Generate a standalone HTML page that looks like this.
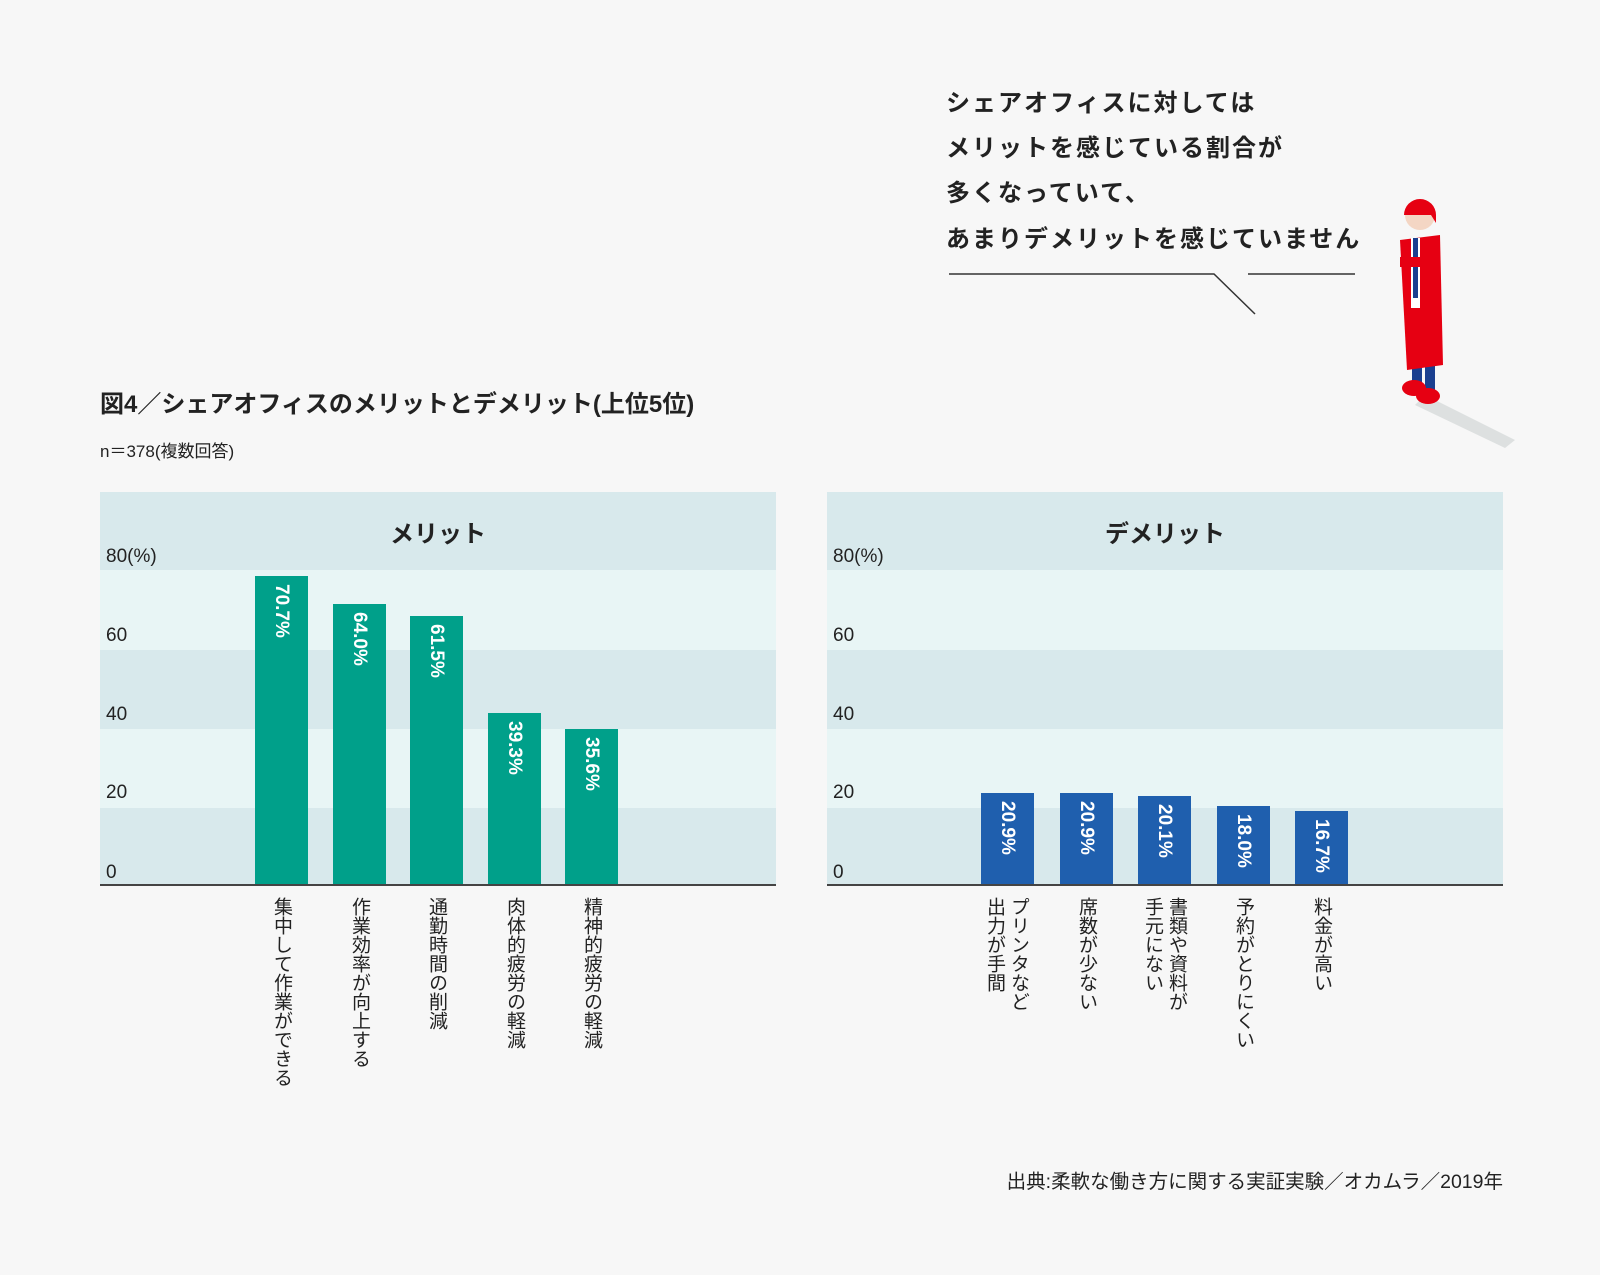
<!DOCTYPE html>
<html><head><meta charset="utf-8"><style>
body{margin:0;width:1600px;height:1275px;background:#f7f7f7;position:relative;overflow:hidden;font-family:"Liberation Sans","Noto Sans CJK JP",sans-serif;color:#222}
.a{position:absolute}
.sp{font-weight:bold;font-size:24px;letter-spacing:2px;left:946px;line-height:1}
.panel{position:absolute;top:492px;width:676px;height:393px}
.band{position:absolute;left:0;width:100%}
.tk{position:absolute;left:6px;font-size:19px;color:#222}
.bar{position:absolute;width:53px;bottom:0}
.val{position:absolute;top:8px;left:0;width:53px;height:200px;writing-mode:vertical-rl;color:#fff;font-weight:bold;font-size:19px;line-height:53px;text-align:left}
.lab{position:absolute;top:405px;height:280px;width:24px;writing-mode:vertical-rl;font-size:19px;line-height:24px;color:#222;white-space:nowrap}
.lab.two{width:48px}
.hd{position:absolute;top:22px;width:100%;text-align:center;font-weight:bold;font-size:24px}
</style></head><body>
<div class="a sp" style="top:92px">シェアオフィスに対しては</div>
<div class="a sp" style="top:137px">メリットを感じている割合が</div>
<div class="a sp" style="top:182px">多くなっていて、</div>
<div class="a sp" style="top:228px">あまりデメリットを感じていません</div>
<svg class="a" style="left:0;top:0" width="1600" height="1275">
<polyline points="949,274 1214,274 1255,314" fill="none" stroke="#333" stroke-width="1.5"/>
<line x1="1248" y1="274" x2="1355" y2="274" stroke="#333" stroke-width="1.5"/>
<polygon points="1425,395 1515,440 1505,448 1415,405" fill="#dde0e0"/>
<rect x="1412" y="340" width="10" height="52" fill="#1a3f8f"/>
<rect x="1425" y="340" width="10" height="52" fill="#1a3f8f"/>
<ellipse cx="1414" cy="388" rx="12" ry="8" fill="#e60012"/>
<ellipse cx="1428" cy="396" rx="12" ry="8" fill="#e60012"/>
<polygon points="1400,240 1440,235 1443,365 1407,370" fill="#e60012"/>
<rect x="1411" y="238" width="9" height="70" fill="#fff"/>
<rect x="1413" y="238" width="5" height="60" fill="#1a3f8f"/>
<rect x="1400" y="257" width="20" height="10" fill="#e60012"/>
<circle cx="1420" cy="215" r="15" fill="#f4d6c4"/>
<path d="M1404,215 a16,16 0 0 1 32,0 l0,8 l-5,-8 l-22,0 z" fill="#e60012"/>
</svg>
<div class="a" style="left:100px;top:384px;font-weight:bold;font-size:24px">図4／シェアオフィスのメリットとデメリット(上位5位)</div>
<div class="a" style="left:100px;top:437px;font-size:17px">n＝378(複数回答)</div>

<div class="panel" style="left:100px">
<div class="band" style="top:0;height:78px;background:#d8e9ec"></div>
<div class="band" style="top:78px;height:80px;background:#e8f5f5"></div>
<div class="band" style="top:158px;height:79px;background:#d8e9ec"></div>
<div class="band" style="top:237px;height:79px;background:#e8f5f5"></div>
<div class="band" style="top:316px;height:77px;background:#d8e9ec"></div>
<div class="band" style="top:392px;height:2px;background:#444"></div>
<div class="hd">メリット</div>
<div class="tk" style="top:54px">80(%)</div><div class="tk" style="top:133px">60</div><div class="tk" style="top:212px">40</div><div class="tk" style="top:290px">20</div><div class="tk" style="top:370px">0</div>
<div class="bar" style="left:155px;height:308px;bottom:1px;background:#00a08a"><div class="val">70.7%</div></div>
<div class="bar" style="left:233px;height:280px;bottom:1px;background:#00a08a"><div class="val">64.0%</div></div>
<div class="bar" style="left:310px;height:268px;bottom:1px;background:#00a08a"><div class="val">61.5%</div></div>
<div class="bar" style="left:388px;height:171px;bottom:1px;background:#00a08a"><div class="val">39.3%</div></div>
<div class="bar" style="left:465px;height:155px;bottom:1px;background:#00a08a"><div class="val">35.6%</div></div>
<div class="lab" style="left:169px">集中して作業ができる</div>
<div class="lab" style="left:247px">作業効率が向上する</div>
<div class="lab" style="left:324px">通勤時間の削減</div>
<div class="lab" style="left:402px">肉体的疲労の軽減</div>
<div class="lab" style="left:479px">精神的疲労の軽減</div>
</div>

<div class="panel" style="left:827px">
<div class="band" style="top:0;height:78px;background:#d8e9ec"></div>
<div class="band" style="top:78px;height:80px;background:#e8f5f5"></div>
<div class="band" style="top:158px;height:79px;background:#d8e9ec"></div>
<div class="band" style="top:237px;height:79px;background:#e8f5f5"></div>
<div class="band" style="top:316px;height:77px;background:#d8e9ec"></div>
<div class="band" style="top:392px;height:2px;background:#444"></div>
<div class="hd">デメリット</div>
<div class="tk" style="top:54px">80(%)</div><div class="tk" style="top:133px">60</div><div class="tk" style="top:212px">40</div><div class="tk" style="top:290px">20</div><div class="tk" style="top:370px">0</div>
<div class="bar" style="left:154px;height:91px;bottom:1px;background:#1f5fae"><div class="val">20.9%</div></div>
<div class="bar" style="left:233px;height:91px;bottom:1px;background:#1f5fae"><div class="val">20.9%</div></div>
<div class="bar" style="left:311px;height:88px;bottom:1px;background:#1f5fae"><div class="val">20.1%</div></div>
<div class="bar" style="left:390px;height:78px;bottom:1px;background:#1f5fae"><div class="val">18.0%</div></div>
<div class="bar" style="left:468px;height:73px;bottom:1px;background:#1f5fae"><div class="val">16.7%</div></div>
<div class="lab two" style="left:155px">プリンタなど<br>出力が手間</div>
<div class="lab" style="left:247px">席数が少ない</div>
<div class="lab two" style="left:313px">書類や資料が<br>手元にない</div>
<div class="lab" style="left:404px">予約がとりにくい</div>
<div class="lab" style="left:482px">料金が高い</div>
</div>

<div class="a" style="right:97px;top:1165px;font-size:19.5px">出典:柔軟な働き方に関する実証実験／オカムラ／2019年</div>
</body></html>
